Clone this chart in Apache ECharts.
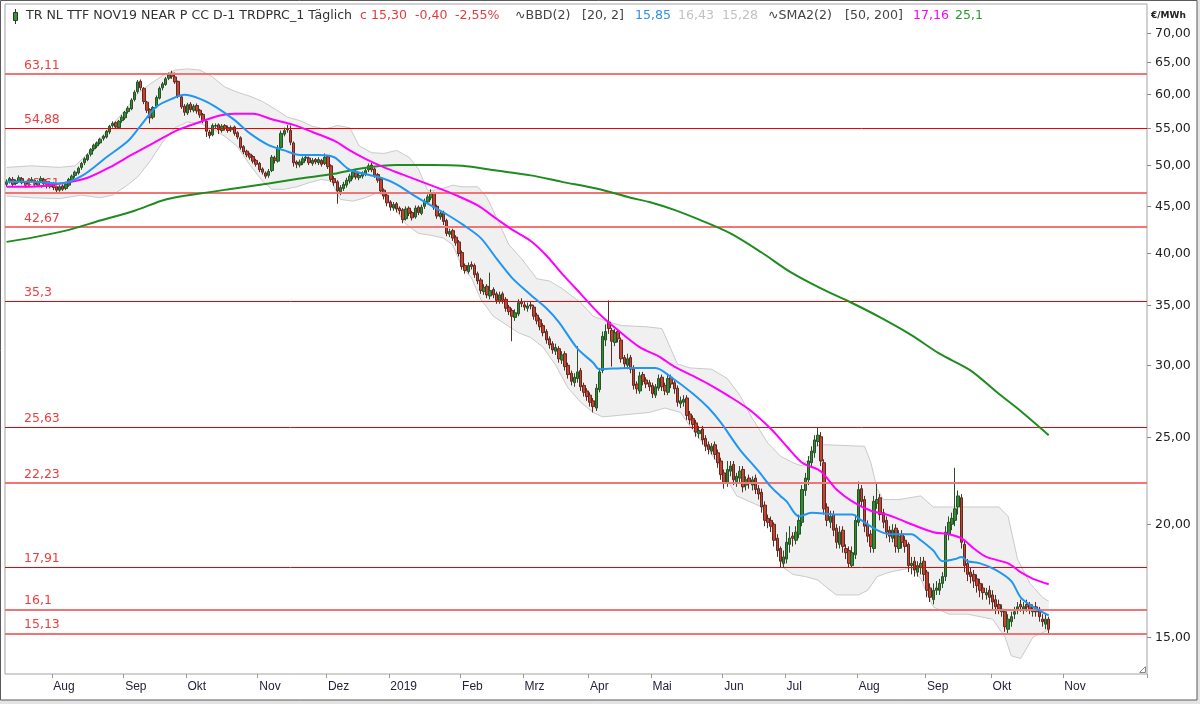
<!DOCTYPE html>
<html><head><meta charset="utf-8">
<script src="https://cdn.jsdelivr.net/npm/echarts/dist/echarts.min.js"></script>
<style>html,body{margin:0;padding:0;background:#e4e4e4;} #chart{width:1200px;height:704px;}</style>
</head><body><div id="chart"></div>
<script>
// ---- categories (trading days) ----
const firstDay = [2018, 6, 11];
const slotCount = 366;
const holidays = ['2018-12-25', '2019-04-19', '2019-04-22'];
const monthNames = ['2019', 'Feb', 'Mrz', 'Apr', 'Mai', 'Jun', 'Jul', 'Aug', 'Sep', 'Okt', 'Nov', 'Dez'];
const lastLabelDay = '2019-11-15';

// ---- daily candles (EUR/MWh) ----
const openPrices = [
47.6,47.9,48.2,47.7,48.0,48.3,47.9,47.6,48.0,48.1,
47.5,48.0,48.2,47.8,47.3,47.7,47.3,46.9,47.4,47.1,
47.5,48.1,48.7,49.0,49.7,50.3,50.7,51.4,52.1,52.5,
52.9,53.5,53.7,54.4,55.3,55.7,55.0,56.0,56.4,57.3,
57.7,59.1,60.3,61.9,60.8,58.7,57.6,56.5,58.0,59.3,
60.9,61.4,62.4,63.2,62.6,61.9,59.5,58.1,57.1,58.4,
57.5,58.2,57.5,56.9,55.9,54.4,54.0,55.2,55.4,54.6,
55.3,55.0,54.7,55.1,54.3,53.6,52.4,51.8,51.4,51.1,
50.6,50.2,49.5,49.0,48.7,49.3,50.9,50.5,52.3,54.1,
54.7,54.6,52.9,50.4,50.0,50.3,50.9,50.9,50.2,50.7,
50.3,50.6,50.2,51.1,49.9,48.3,47.9,46.7,47.1,47.5,
48.0,48.5,49.2,48.4,48.6,48.9,49.4,50.0,49.5,48.8,
48.2,46.9,46.3,45.5,44.8,45.3,44.8,44.6,43.6,44.8,
44.3,43.8,44.9,44.2,45.0,45.5,46.0,46.5,45.0,43.8,
44.3,43.4,41.9,42.3,41.6,41.1,40.0,38.7,38.1,38.8,
38.7,37.9,37.3,36.2,36.7,35.8,36.4,36.0,35.3,36.0,
35.5,34.8,34.5,33.9,34.2,35.3,35.0,34.7,35.0,34.8,
34.1,33.7,33.2,32.7,32.1,31.7,31.1,31.3,30.4,30.9,
30.0,29.4,28.7,29.0,29.6,28.5,28.1,27.8,27.4,26.9,
28.2,29.6,32.0,33.5,32.8,31.8,32.7,32.0,30.6,30.0,
30.6,29.8,28.6,28.1,29.3,28.9,28.7,28.5,27.8,28.3,
29.1,28.5,28.0,29.1,28.7,28.3,27.2,27.3,27.6,26.5,
26.2,25.9,25.2,25.5,24.9,24.5,24.1,24.5,24.0,23.5,
22.8,22.2,22.9,23.3,22.3,22.5,23.0,22.1,22.5,22.1,
22.5,21.9,21.7,21.0,20.3,20.2,20.0,19.3,18.8,18.1,
18.3,19.0,19.4,19.2,19.5,20.1,21.8,22.4,23.4,24.0,
24.7,25.0,23.4,20.9,20.1,20.5,19.8,19.0,19.7,18.8,
18.7,18.0,18.5,20.1,21.9,21.3,20.0,19.5,18.8,21.1,
21.4,20.6,20.2,19.7,19.3,19.8,18.8,19.5,19.2,19.0,
18.0,18.2,17.7,17.9,18.2,17.7,17.0,16.5,16.9,16.9,
17.2,17.5,19.5,20.0,20.2,20.9,21.4,19.0,18.1,17.7,
17.6,17.4,17.2,17.0,16.7,16.9,16.7,16.5,16.3,16.0,
16.0,15.3,15.6,15.9,16.1,16.3,16.1,16.3,16.3,16.0,
16.2,16.1,15.7,15.5,15.7];
const closePrices = [
47.9,48.3,47.6,48.0,48.4,47.8,47.5,48.1,48.2,47.6,
47.9,48.3,47.7,47.4,47.8,47.2,46.9,47.3,47.0,47.6,
48.2,48.6,49.1,49.6,50.2,50.8,51.3,52.0,52.6,52.9,
53.4,53.8,54.5,55.2,55.6,55.1,55.9,56.5,57.2,57.8,
59.0,60.2,61.8,60.9,58.8,57.5,56.4,57.9,59.4,60.8,
61.5,62.3,62.9,62.7,61.8,59.6,58.0,57.2,58.3,57.6,
58.1,57.4,56.8,56.0,54.5,53.9,55.3,55.3,54.7,55.2,
54.9,54.6,55.0,54.2,53.7,52.3,51.7,51.3,51.0,50.5,
50.1,49.4,49.1,48.6,49.2,51.0,50.6,52.2,54.2,54.6,
54.8,53.0,50.3,50.1,50.4,50.8,51.0,50.3,50.6,50.4,
50.7,50.1,51.0,49.8,48.2,47.8,46.8,47.2,47.6,48.1,
48.6,49.1,48.5,48.7,49.0,49.3,49.9,49.4,48.7,48.1,
46.8,46.2,45.4,44.9,45.2,44.7,44.5,43.5,44.7,44.2,
43.7,44.8,44.3,44.9,45.6,46.1,46.6,44.9,43.9,44.2,
43.3,42.0,42.2,41.5,41.0,39.9,38.6,38.2,38.7,38.6,
37.8,37.2,36.3,36.6,35.9,36.3,35.9,35.4,35.9,35.4,
34.7,34.4,34.0,34.3,35.2,35.1,34.8,34.9,34.9,34.0,
33.6,33.1,32.6,32.0,31.6,31.2,31.4,30.5,30.8,29.9,
29.3,28.8,29.1,29.5,28.4,28.0,27.7,27.3,27.0,28.3,
29.5,32.3,32.7,32.95,31.9,32.6,32.1,30.5,30.1,30.5,
29.7,28.5,28.25,29.2,28.8,28.6,28.4,27.9,28.4,29.0,
28.4,28.1,29.0,28.6,28.25,27.3,27.4,27.5,26.4,26.1,
25.8,25.3,25.4,24.8,24.4,24.2,24.4,23.9,23.4,22.7,
22.25,23.0,23.2,22.4,22.6,22.9,22.0,22.4,22.2,22.4,
21.85,21.6,20.9,20.2,20.1,19.9,19.2,18.7,18.2,18.4,
19.1,19.3,19.3,19.6,20.2,21.85,22.5,23.5,24.1,24.8,
25.1,23.5,20.8,20.2,20.4,19.7,19.1,19.6,18.9,18.6,
18.1,18.6,20.2,21.85,21.2,19.9,19.4,18.9,21.2,21.3,
20.5,20.1,19.6,19.4,19.7,18.9,19.4,19.1,18.9,18.0,
18.1,17.8,18.0,18.1,17.6,16.9,16.6,16.9,17.0,17.2,
17.5,19.6,20.1,20.3,20.8,21.5,19.1,18.0,17.6,17.5,
17.3,17.1,16.9,16.8,16.8,16.6,16.4,16.2,16.1,16.1,
15.4,15.7,15.8,16.0,16.2,16.2,16.2,16.2,16.1,16.1,
16.0,15.8,15.6,15.7,15.3];
const lowPrices = [
47.3,47.7,47.4,47.5,47.8,47.6,47.2,47.4,47.8,47.4,
47.3,47.8,47.5,47.1,47.1,46.9,46.5,46.7,46.8,46.9,
47.3,47.9,48.4,48.8,49.4,50.0,50.5,51.1,51.8,52.2,
52.7,53.2,53.5,54.1,55.0,54.8,54.8,55.7,56.1,57.0,
57.5,58.8,60.0,60.5,58.4,57.1,55.6,56.2,57.8,59.1,
60.5,61.2,62.1,62.3,61.5,59.3,57.7,56.7,56.8,57.2,
57.2,57.0,56.4,55.6,53.7,53.5,53.8,54.8,54.1,54.3,
54.6,54.3,54.4,53.9,53.4,52.0,51.4,51.0,50.7,50.2,
49.8,49.1,48.8,48.3,48.4,49.1,50.2,50.3,52.1,53.8,
54.3,52.6,49.8,49.6,49.7,50.0,50.5,50.0,49.9,50.1,
50.0,49.8,50.0,49.5,47.9,47.4,45.3,46.3,46.8,47.2,
47.7,48.2,48.2,48.1,48.3,48.6,49.1,49.1,48.4,47.8,
46.5,45.8,45.0,44.5,44.5,44.3,44.1,43.1,43.4,43.9,
43.4,43.6,44.0,44.0,44.7,45.3,45.7,44.6,43.6,43.5,
42.9,41.7,41.6,41.2,40.7,39.6,38.3,37.9,37.9,38.3,
37.5,36.9,36.0,35.9,35.6,35.5,35.6,35.1,35.1,35.1,
34.4,34.1,31.9,33.6,34.0,34.8,34.5,34.4,34.6,33.7,
33.3,32.8,32.3,31.7,31.3,30.9,30.8,30.2,30.1,29.6,
29.0,28.5,28.4,28.7,28.1,27.7,27.4,27.0,26.6,26.7,
28.0,29.4,31.5,32.5,29.9,31.5,31.8,30.2,29.8,29.7,
29.4,28.2,27.9,27.9,28.5,28.3,28.1,27.6,27.6,28.1,
28.1,27.8,27.8,28.3,27.9,27.0,26.9,27.0,26.1,25.8,
25.5,25.0,24.9,24.5,24.1,23.9,23.9,23.6,23.1,22.4,
21.9,22.0,22.6,22.1,22.0,22.2,21.7,21.8,21.9,21.8,
21.6,21.3,20.6,19.9,19.8,19.6,18.9,18.4,17.9,17.9,
18.1,18.6,18.9,19.0,19.3,19.9,21.5,22.1,23.1,23.7,
24.4,23.2,20.5,19.9,19.8,19.4,18.8,18.8,18.6,18.3,
17.9,17.9,18.3,19.9,20.9,19.6,19.1,18.6,18.6,20.8,
20.2,19.8,19.3,19.1,19.1,18.6,18.6,18.8,18.6,17.7,
17.6,17.5,17.5,17.6,17.3,16.6,16.4,16.3,16.7,16.7,
17.0,17.3,19.2,19.7,19.9,20.5,18.8,17.7,17.3,17.2,
17.0,16.8,16.6,16.5,16.5,16.3,16.1,15.9,15.9,15.8,
15.2,15.1,15.4,15.7,15.9,16.0,15.9,16.0,15.9,15.8,
15.8,15.6,15.4,15.3,15.1];
const highPrices = [
48.2,48.5,48.5,48.2,48.7,48.5,48.0,48.3,48.5,48.3,
48.1,48.6,48.4,48.0,48.0,47.9,47.4,47.5,47.6,47.8,
48.4,48.8,49.3,49.8,50.4,51.0,51.5,52.2,52.8,53.1,
53.6,54.0,54.7,55.4,55.9,55.9,56.1,56.8,57.4,58.1,
59.3,60.5,62.1,62.2,61.0,58.9,57.8,58.1,59.7,61.1,
61.8,62.6,63.3,63.6,63.3,62.0,59.8,58.4,58.6,58.7,
58.4,58.5,57.7,57.1,56.0,54.7,55.6,55.6,55.6,55.5,
55.5,55.3,55.3,55.3,54.5,53.8,52.6,52.0,51.6,51.3,
50.8,50.4,49.7,49.2,49.5,51.3,51.2,52.6,54.6,55.0,
55.4,55.3,53.1,50.6,50.7,51.1,51.3,51.1,50.9,50.9,
51.0,50.8,51.5,51.3,50.1,48.6,48.1,47.5,47.9,48.4,
48.9,49.4,49.4,49.0,49.2,49.6,50.2,50.3,49.7,49.0,
48.4,47.1,46.5,45.7,45.5,45.5,45.0,44.8,45.0,45.0,
44.5,45.1,45.1,45.2,45.9,46.4,47.0,46.7,45.2,44.5,
44.5,43.6,42.5,42.5,41.8,41.3,40.2,38.9,39.0,39.1,
38.9,38.1,37.5,36.9,36.9,38.0,36.6,36.2,36.2,36.2,
35.7,35.0,34.7,34.6,35.5,35.6,35.3,35.2,35.3,35.0,
34.3,33.9,33.4,32.9,32.3,31.9,31.7,31.5,31.1,31.1,
30.2,29.6,29.4,31.5,29.8,28.7,28.3,28.0,27.6,28.6,
29.8,32.7,33.3,35.4,33.0,32.9,32.9,32.2,30.8,30.9,
30.8,30.0,28.8,29.5,29.5,29.1,28.9,28.7,28.6,29.3,
29.3,28.7,29.3,29.3,28.9,28.5,27.7,27.8,27.8,26.7,
26.4,26.1,25.7,25.7,25.1,24.7,24.6,24.7,24.2,23.7,
23.0,23.5,23.5,23.5,22.8,23.2,23.2,22.6,22.7,22.6,
22.7,22.1,21.9,21.2,20.5,20.4,20.1,19.5,18.9,18.7,
19.6,19.9,19.6,19.9,20.5,22.1,22.8,23.8,24.4,25.1,
25.6,25.3,23.6,21.1,20.7,20.7,20.0,19.9,19.9,19.0,
18.9,18.9,20.5,22.3,22.1,21.5,20.2,19.7,21.5,22.2,
21.6,20.8,20.4,19.9,20.0,20.0,19.7,19.7,19.4,19.1,
18.4,18.4,18.2,18.4,18.4,17.8,17.2,17.2,17.3,17.4,
17.7,19.9,20.4,20.6,23.1,21.8,21.6,19.2,18.3,17.9,
17.8,17.6,17.4,17.2,17.0,17.1,16.9,16.7,16.5,16.3,
16.1,15.9,16.0,16.2,16.4,16.5,16.4,16.5,16.4,16.3,
16.4,16.2,15.9,15.9,15.8];

// ---- indicators: [trading-day index, value] ----
const bbMid = [[0,47.9],[8,47.9],[17,47.7],[24,48.6],[32,51.0],[39,53.2],[43,55.3],[48,58.0],[53,59.2],[57,59.8],[62,59.2],[67,58.0],[73,56.1],[78,54.2],[84,52.6],[89,51.9],[94,51.3],[100,51.3],[105,51.0],[110,49.4],[120,48.4],[125,47.6],[130,46.4],[136,45.1],[141,44.1],[146,43.0],[152,41.5],[157,39.4],[162,37.5],[168,35.9],[173,34.7],[177,33.5],[183,31.3],[188,30.2],[190,29.7],[199,29.8],[208,29.8],[213,29.1],[220,27.9],[225,26.9],[229,25.9],[235,24.2],[241,22.9],[245,22.0],[248,21.5],[250,21.2],[254,20.4],[258,20.6],[266,20.5],[271,20.5],[274,20.2],[279,19.7],[283,19.5],[290,19.5],[293,19.2],[297,18.7],[300,18.2],[304,18.3],[306,18.4],[308,18.2],[312,18.1],[317,17.8],[322,17.3],[325,16.6],[329,16.2],[334,15.85]];
const bbUpper = [[0,49.7],[8,49.9],[17,49.7],[22,49.9],[26,51.5],[30,53.5],[34,55.5],[38,57.5],[42,60.0],[46,61.5],[50,62.8],[54,63.7],[58,63.9],[62,63.7],[66,62.6],[70,61.0],[74,60.2],[78,59.6],[82,58.8],[86,57.7],[90,56.5],[94,56.0],[98,55.2],[102,54.8],[106,55.3],[110,55.0],[113,52.5],[117,51.6],[121,51.5],[125,51.9],[129,51.0],[132,49.5],[135,46.8],[139,47.0],[143,47.5],[146,47.3],[151,47.3],[154,46.0],[158,43.0],[161,40.8],[165,39.4],[170,37.4],[174,37.2],[178,36.5],[184,35.2],[188,34.0],[192,33.6],[197,33.2],[205,33.1],[210,32.95],[212,31.8],[215,30.1],[219,29.8],[226,29.7],[231,29.0],[235,27.8],[239,26.2],[244,24.6],[248,23.8],[252,23.4],[255,23.2],[257,23.6],[259,24.4],[262,24.5],[275,24.4],[277,23.4],[279,21.9],[281,21.3],[286,21.3],[293,21.5],[297,20.9],[318,20.9],[321,20.4],[324,18.3],[328,17.2],[332,16.6],[334,16.43]];
const bbLower = [[0,46.2],[8,46.0],[17,45.9],[24,46.3],[30,46.0],[34,46.3],[38,47.3],[42,48.5],[46,50.5],[50,53.0],[54,55.0],[58,55.8],[62,55.6],[66,54.8],[70,53.8],[74,52.4],[78,50.0],[82,48.0],[85,47.0],[89,47.0],[93,47.3],[97,47.8],[101,48.2],[104,48.0],[107,45.8],[111,45.6],[115,46.0],[119,46.6],[122,46.0],[125,44.5],[128,43.0],[132,42.0],[136,41.8],[140,41.5],[143,40.8],[146,38.5],[149,37.5],[152,35.5],[156,34.0],[160,33.3],[164,32.6],[168,32.2],[172,31.4],[176,30.0],[180,28.3],[184,27.3],[188,26.6],[191,26.3],[196,26.4],[201,26.5],[206,26.6],[211,26.9],[216,26.6],[220,25.4],[224,24.4],[228,23.4],[231,22.4],[234,21.5],[238,21.2],[242,20.9],[246,19.6],[249,17.9],[252,17.6],[256,17.5],[260,17.35],[263,17.0],[266,16.7],[273,16.7],[276,16.9],[279,17.5],[283,17.7],[290,17.9],[293,17.4],[297,16.2],[302,15.9],[308,15.9],[316,15.7],[320,15.0],[322,14.3],[325,14.2],[329,15.0],[334,15.28]];
const sma50 = [[0,47.3],[8,47.3],[19,47.8],[26,48.4],[33,49.7],[40,51.3],[48,53.1],[55,54.7],[62,55.8],[68,56.7],[73,57.0],[79,57.0],[85,56.2],[92,55.4],[98,54.4],[105,53.2],[110,51.9],[115,50.8],[121,49.7],[127,48.8],[138,47.2],[144,46.3],[151,45.1],[157,43.6],[162,42.4],[168,41.2],[173,39.7],[178,37.9],[184,36.0],[190,34.2],[196,32.8],[203,31.4],[209,30.7],[214,29.9],[220,29.2],[225,28.6],[231,27.8],[238,26.8],[245,25.5],[250,24.4],[255,23.4],[260,23.0],[262,22.7],[266,21.85],[271,21.2],[277,20.7],[282,20.5],[287,20.2],[290,20.0],[297,19.6],[302,19.5],[306,19.3],[310,18.8],[314,18.4],[321,18.1],[325,17.7],[329,17.4],[334,17.16]];
const sma200 = [[0,41.1],[9,41.6],[19,42.3],[30,43.4],[41,44.5],[51,45.8],[62,46.5],[73,47.1],[84,47.7],[94,48.3],[105,48.9],[114,49.6],[125,50.0],[136,50.0],[146,49.9],[157,49.3],[168,48.7],[178,47.9],[189,47.1],[200,46.0],[206,45.5],[214,44.6],[222,43.5],[232,42.0],[242,40.0],[251,38.1],[261,36.5],[270,35.3],[280,33.9],[290,32.4],[299,30.9],[309,29.6],[318,27.9],[325,26.7],[334,25.1]];

// ---- horizontal levels ----
const levelValues = [63.11, 54.88, 46.61, 42.67, 35.3, 25.63, 22.23, 17.91, 16.1, 15.13];
const levelLabels = ['63,11', '54,88', '46,61', '42,67', '35,3', '25,63', '22,23', '17,91', '16,1', '15,13'];
const levelStrong = [false, true, false, false, true, true, false, true, false, false];

// ---- y tick labels ----
const yTickValues = [15, 20, 25, 30, 35, 40, 45, 50, 55, 60, 65, 70];

// ---- header texts ----
const headerParts = [
  { text: 'TR NL TTF NOV19 NEAR P CC D-1 TRDPRC_1 Täglich', color: '#333333', x: 26 },
  { text: 'c 15,30', color: '#e8393a', x: 360 },
  { text: '-0,40', color: '#e8393a', x: 415 },
  { text: '-2,55%', color: '#e8393a', x: 455 },
  { text: '∿BBD(2)', color: '#444444', x: 515 },
  { text: '[20, 2]', color: '#444444', x: 582 },
  { text: '15,85', color: '#2f8ff0', x: 635 },
  { text: '16,43', color: '#c2c2c2', x: 678 },
  { text: '15,28', color: '#c2c2c2', x: 722 },
  { text: '∿SMA2(2)', color: '#444444', x: 768 },
  { text: '[50, 200]', color: '#444444', x: 845 },
  { text: '17,16', color: '#ff00ff', x: 913 },
  { text: '25,1', color: '#2b9a2b', x: 955 }
];

// build categories: weekdays without exchange holidays
const categories = [];
(function () {
  const d = new Date(Date.UTC(firstDay[0], firstDay[1], firstDay[2]));
  while (categories.length < slotCount) {
    const dow = d.getUTCDay();
    const s = d.toISOString().slice(0, 10);
    if (dow !== 0 && dow !== 6 && holidays.indexOf(s) < 0) categories.push(s);
    d.setUTCDate(d.getUTCDate() + 1);
  }
})();
function isMonthStart(idx) {
  return idx > 0 && categories[idx] <= lastLabelDay && categories[idx].slice(5, 7) !== categories[idx - 1].slice(5, 7);
}
function monthLabel(value) {
  const m = parseInt(value.slice(5, 7), 10);
  return m === 1 ? value.slice(0, 4) : monthNames[m - 1];
}

const candleData = openPrices.map((o, i) => [o, closePrices[i], lowPrices[i], highPrices[i]]);

const FONT = '"DejaVu Sans", "Liberation Sans", sans-serif';
const GRID_L = 5, GRID_R = 1147, GRID_T = 4, GRID_B = 674;

const chart = echarts.init(document.getElementById('chart'));
const option = {
  animation: false,
  backgroundColor: '#ffffff',
  grid: { left: GRID_L, right: 1200 - GRID_R, top: GRID_T, bottom: 704 - GRID_B, show: true, borderColor: '#a3a3a3', borderWidth: 1, backgroundColor: '#ffffff' },
  xAxis: {
    type: 'category', data: categories, boundaryGap: true,
    axisLine: { show: false },
    axisTick: { show: true, interval: isMonthStart, length: 4, lineStyle: { color: '#9a9a9a' } },
    axisLabel: { interval: isMonthStart, formatter: monthLabel, align: 'left', margin: 7, color: '#23233a', fontFamily: '"Liberation Sans", sans-serif', fontSize: 12 },
    splitLine: { show: false }
  },
  yAxis: {
    type: 'log', position: 'right', min: 13.65, max: 75.4,
    axisLine: { show: false }, axisTick: { show: false }, axisLabel: { show: false }, splitLine: { show: false }
  },
  series: [
    {
      type: 'custom', z: 1, silent: true, clip: true,
      data: [[0, 40]],
      renderItem: function (params, api) {
        const pts = [];
        for (const p of bbUpper) pts.push(api.coord(p));
        for (let k = bbLower.length - 1; k >= 0; k--) pts.push(api.coord(bbLower[k]));
        return { type: 'polygon', shape: { points: pts }, style: { fill: '#f0f0f0' } };
      }
    },
    { type: 'line', z: 2, data: bbUpper, showSymbol: false, silent: true, lineStyle: { color: '#cacaca', width: 1 } },
    { type: 'line', z: 2, data: bbLower, showSymbol: false, silent: true, lineStyle: { color: '#cacaca', width: 1 } },
    {
      type: 'line', z: 3, data: [], silent: true,
      markLine: {
        symbol: ['none', 'none'], silent: true, animation: false,
        data: levelValues.map((v, k) => ({
          yAxis: v, name: levelLabels[k],
          lineStyle: { color: levelStrong[k] ? '#f00000' : '#f37474', width: levelStrong[k] ? 1 : 2, type: 'solid', opacity: 1 },
          label: { show: true, formatter: '{b}', position: 'insideStartTop', distance: 2, padding: [0, 0, 0, 17], color: '#f03c3c', fontFamily: FONT, fontSize: 12.5 }
        }))
      }
    },
    {
      type: 'candlestick', z: 4, data: candleData, barWidth: 3, silent: true,
      itemStyle: { color: '#2b8f2b', color0: '#c9412f', borderColor: '#2a4f2a', borderColor0: '#5e2b24', borderWidth: 1 }
    },
    { type: 'line', z: 5, data: sma200, showSymbol: false, silent: true, smooth: 0.3, lineStyle: { color: '#1f8c1f', width: 2 } },
    { type: 'line', z: 6, data: sma50, showSymbol: false, silent: true, smooth: 0.3, lineStyle: { color: '#ff00ff', width: 2 } },
    { type: 'line', z: 7, data: bbMid, showSymbol: false, silent: true, smooth: 0.3, lineStyle: { color: '#2196f3', width: 2 } }
  ]
};
chart.setOption(option);

// static decoration + y tick labels placed through the y axis scale
const graphics = [
  { type: 'rect', shape: { x: 1197, y: 0, width: 3, height: 704 }, style: { fill: '#e4e4e4' }, silent: true },
  { type: 'rect', shape: { x: 0, y: 700, width: 1200, height: 4 }, style: { fill: '#e4e4e4' }, silent: true },
  { type: 'rect', shape: { x: 0.5, y: 0.5, width: 1196.5, height: 699.5 }, style: { fill: null, stroke: '#5a5a5a', lineWidth: 1 }, silent: true },
  { type: 'line', shape: { x1: 15.5, y1: 9, x2: 15.5, y2: 24 }, style: { stroke: '#333', lineWidth: 1 }, silent: true },
  { type: 'rect', shape: { x: 13.5, y: 12.5, width: 4, height: 8 }, style: { fill: '#2e9a2e', stroke: '#333', lineWidth: 1 }, silent: true },
  { type: 'text', x: 1151, y: 16, style: { text: '€/MWh', font: 'bold 9px ' + FONT, fill: '#222', verticalAlign: 'middle' }, silent: true },
  { type: 'polyline', shape: { points: [[1139.5, 672.5], [1145.5, 672.5], [1145.5, 666.5]] }, style: { stroke: '#888', fill: null }, silent: true },
  { type: 'line', shape: { x1: 1140, y1: 672, x2: 1145, y2: 667 }, style: { stroke: '#888' }, silent: true }
];
headerParts.forEach(p => {
  graphics.push({ type: 'text', x: p.x, y: 16, style: { text: p.text, font: '12.6px ' + FONT, fill: p.color, verticalAlign: 'middle' }, silent: true });
});
yTickValues.forEach(v => {
  const y = Math.round(chart.convertToPixel({ yAxisIndex: 0 }, v)) + 0.5;
  graphics.push({ type: 'line', shape: { x1: GRID_R, y1: y, x2: GRID_R + 4, y2: y }, style: { stroke: '#8a8a8a' }, silent: true });
  graphics.push({ type: 'text', x: GRID_R + 8, y: y, style: { text: v.toFixed(2).replace('.', ','), font: '12.5px ' + FONT, fill: '#1e1e1e', verticalAlign: 'middle' }, silent: true });
});
chart.setOption({ graphic: graphics });
</script>
</body></html>
